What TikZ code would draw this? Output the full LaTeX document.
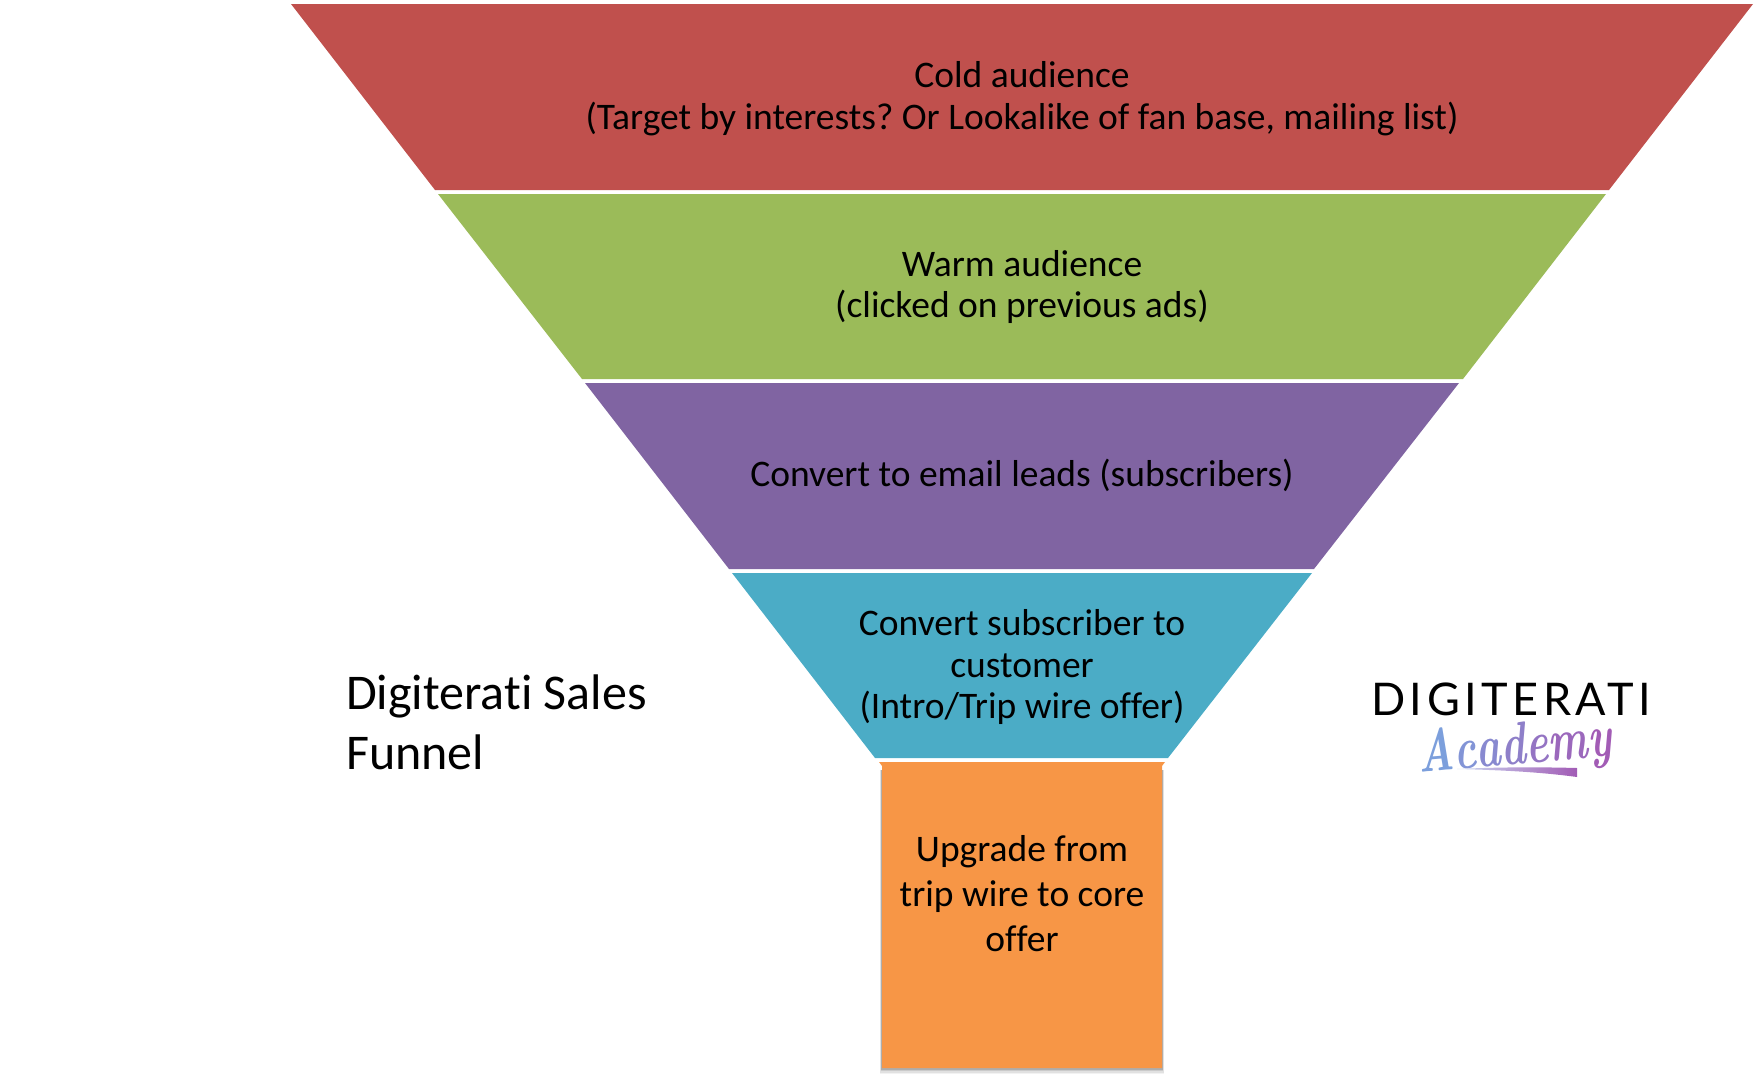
\documentclass[tikz,border=0pt]{standalone}
\usepackage{fontspec}
\setmainfont[Ligatures={NoCommon}]{Carlito}
\newfontfamily\logofont[LetterSpace=10]{Lato}
\newfontfamily\acadfont{Latin Modern Roman}
\definecolor{cred}{HTML}{C0504D}
\definecolor{cgreen}{HTML}{9BBB59}
\definecolor{cpurple}{HTML}{8064A2}
\definecolor{cblue}{HTML}{4BACC6}
\definecolor{corange}{HTML}{F79646}
\definecolor{acA}{HTML}{7C9FDC}
\definecolor{acB}{HTML}{A25CB5}
\tikzset{
  lbl/.style={align=center,text=black,font=\fontsize{37.5}{41.6}\selectfont,inner sep=0pt}
}
\frenchspacing
\begin{document}
\begin{tikzpicture}[x=1pt,y=-1pt]
\useasboundingbox (0,0) rectangle (1759,1079);
\fill[cred]    (291,4) -- (1753,4) -- (1609,190) -- (435,190) -- cycle;
\fill[cgreen]  (438,194) -- (1606,194) -- (1463,379) -- (582,379) -- cycle;
\fill[cpurple] (585,383) -- (1459,383) -- (1314,569) -- (729,569) -- cycle;
\fill[cblue]   (732,573) -- (1312,573) -- (1168,758) -- (875,758) -- cycle;
% shadow of the orange box
\foreach \d/\o in {6/.05,4.5/.07,3/.1,1.5/.14}
  \fill[black,opacity=\o] (882-\d*.35,770) rectangle (1162+\d*.35,1068+\d);
\fill[corange] (879,762) -- (1165,762) -- (1162,766) -- (1162,1068) -- (882,1068) -- (882,766) -- cycle;

\node[lbl] (cold) at (1022,99) {Cold audience\\(Target by interests? Or Lookalike of fan base, mailing list)};
\node[lbl] (warm) at (1022,287) {Warm audience\\(clicked on previous ads)};
\node[lbl] (conv) at (1022,475) {Convert to email leads (subscribers)};
\node[lbl] (cust) at (1022,667) {Convert subscriber to\\customer\\(Intro/Trip wire offer)};
\node[lbl,font=\fontsize{37.5}{45}\selectfont] (up) at (1022,894) {Upgrade from\\trip wire to core\\offer};
\node[lbl,align=left,anchor=west,font=\fontsize{50}{60}\selectfont] (title) at (346,722) {Digiterati Sales\\Funnel};

\node[inner sep=0pt,anchor=base west,text=black] (logo) at (1371,715) {\fontsize{45}{45}\selectfont\logofont DIGITERATI};
\node[inner sep=0pt,anchor=base,rotate=5] (acad) at (1516,764) {\scalebox{.7}[1]{\fontsize{60}{60}\selectfont\acadfont\bfseries\itshape
  \textcolor{acA}{A}\textcolor{acA!84!acB}{c}\textcolor{acA!68!acB}{a}\textcolor{acA!52!acB}{d}\textcolor{acA!36!acB}{e}\textcolor{acA!18!acB}{m}\textcolor{acB}{y}}};
\shade[left color=acA!40!white,right color=acB] (1457,769) .. controls (1500,767) and (1540,767) .. (1577,768) -- (1577,777) .. controls (1540,772) and (1500,770) .. (1457,769) -- cycle;
\end{tikzpicture}
\end{document}
